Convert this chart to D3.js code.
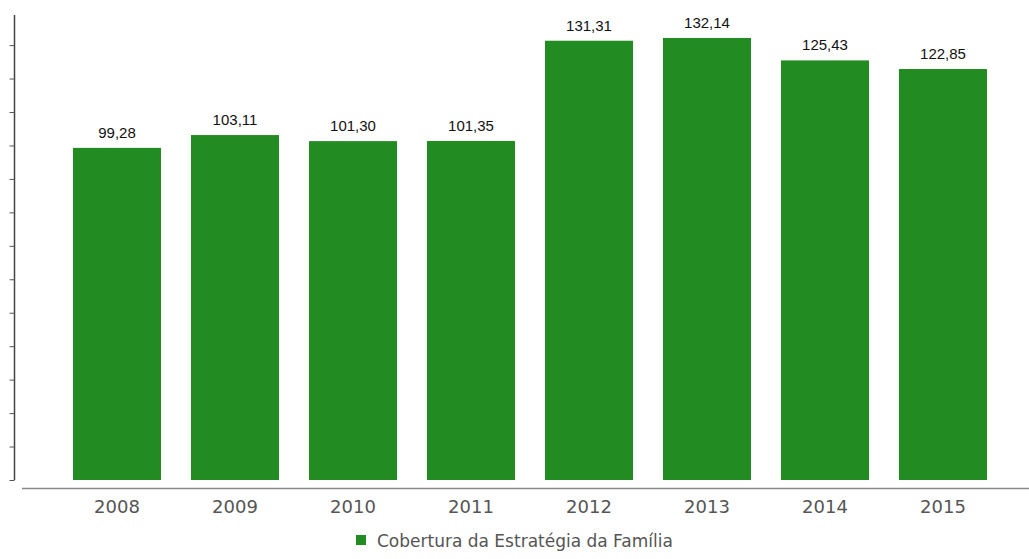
<!DOCTYPE html>
<html>
<head>
<meta charset="utf-8">
<script src="https://cdn.jsdelivr.net/npm/d3@7"></script>
<style>
  html, body { margin: 0; padding: 0; background: #fff; }
  svg { display: block; }
</style>
</head>
<body>
<svg id="chart" width="1029" height="559"></svg>
<script>
const categories = ["2008", "2009", "2010", "2011", "2012", "2013", "2014", "2015"];
const values = [99.28, 103.11, 101.30, 101.35, 131.31, 132.14, 125.43, 122.85];
const valueLabels = ["99,28", "103,11", "101,30", "101,35", "131,31", "132,14", "125,43", "122,85"];
const yTicks = [0, 10, 20, 30, 40, 50, 60, 70, 80, 90, 100, 110, 120, 130];
const seriesName = "Cobertura da Estratégia da Família";

const svg = d3.select("#chart");
const color = "#228B22";

const x = d3.scaleBand().domain(categories).range([58, 1002]).paddingInner(0.254).paddingOuter(0.127);
const y = d3.scaleLinear().domain([0, 139]).range([480, 15]);

// Y axis
const yAxis = svg.append("g").attr("transform", "translate(14.5,0)")
  .call(d3.axisLeft(y).tickValues(yTicks).tickSize(5).tickFormat(""));
yAxis.select(".domain").attr("stroke", "#444").attr("stroke-width", 1.5)
  .attr("d", `M-0,${y(139)}V${y(0)}`);
yAxis.selectAll(".tick line").attr("stroke", "#555").attr("stroke-width", 1);

// Bars
svg.append("g").selectAll("rect").data(values).join("rect")
  .attr("x", (d, i) => x(categories[i]))
  .attr("y", d => y(d))
  .attr("width", x.bandwidth())
  .attr("height", d => y(0) - y(d))
  .attr("fill", color);

// Value labels
svg.append("g").selectAll("text").data(values).join("text")
  .attr("x", (d, i) => x(categories[i]) + x.bandwidth() / 2)
  .attr("y", d => y(d) - 10)
  .attr("text-anchor", "middle")
  .attr("font-family", "Liberation Sans, Arial, sans-serif")
  .attr("font-size", 15)
  .attr("fill", "#111")
  .text((d, i) => valueLabels[i]);

// X axis
const xAxis = svg.append("g").attr("transform", "translate(0,488.5)")
  .call(d3.axisBottom(x).tickSize(0).tickPadding(12));
xAxis.select(".domain").attr("stroke", "#888").attr("stroke-width", 1.5)
  .attr("d", "M22,0H1029");
xAxis.selectAll(".tick text")
  .attr("font-family", "DejaVu Sans, Verdana, sans-serif")
  .attr("font-size", 18)
  .attr("fill", "#555");

// Legend
const lg = svg.append("g");
lg.append("rect").attr("x", 356).attr("y", 535).attr("width", 10).attr("height", 10).attr("fill", color);
lg.append("text").attr("x", 377).attr("y", 547)
  .attr("font-family", "DejaVu Sans, Verdana, sans-serif")
  .attr("font-size", 17)
  .attr("fill", "#555")
  .text(seriesName);
</script>
</body>
</html>
